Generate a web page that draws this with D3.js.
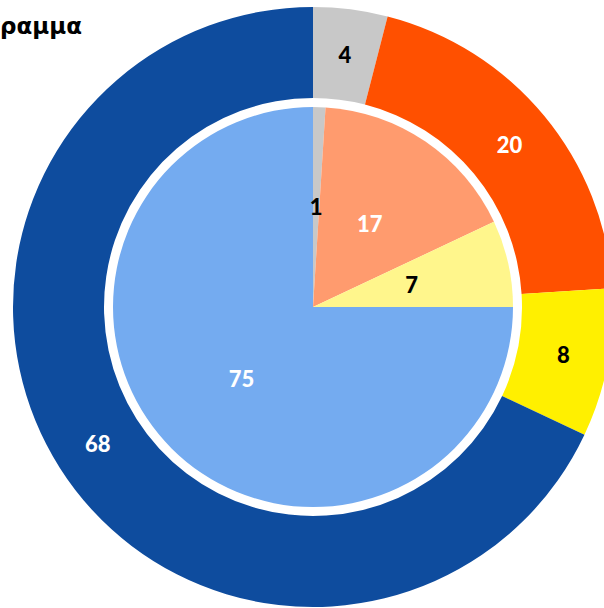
<!DOCTYPE html>
<html><head><meta charset="utf-8">
<script src="https://cdn.jsdelivr.net/npm/d3@7"></script>
<style>html,body{margin:0;padding:0;background:#fff;overflow:hidden}</style>
</head><body>
<svg id="chart" width="604" height="608"></svg>
<script>
const categories = ["Γκρι", "Πορτοκαλί", "Κίτρινο", "Μπλε"];
const outerValues = [4, 20, 8, 68];
const innerValues = [1, 17, 7, 75];
const outerColors = ["#c8c8c8", "#ff5000", "#fff000", "#0e4c9e"];
const innerColors = ["#c8c8c8", "#ff9b6e", "#fff68c", "#74abf0"];
const outerText = ["#000", "#fff", "#000", "#fff"];
const innerText = ["#000", "#fff", "#000", "#fff"];
const titleLines = ["Κυκλικό", "διάγραμμα"];

const svg = d3.select("#chart");
const cx = 313, cy = 307;
const g = svg.append("g").attr("transform", `translate(${cx},${cy})`);
const pie = d3.pie().sort(null).value(d => d);

const outerArc = d3.arc().innerRadius(209).outerRadius(300);
const outerLabel = d3.arc().innerRadius(255).outerRadius(255);
const innerArc = d3.arc().innerRadius(0).outerRadius(200);
const innerLabel = d3.arc().innerRadius(101).outerRadius(101);

const od = pie(outerValues), id = pie(innerValues);
g.selectAll("path.o").data(od).join("path").attr("class","o")
  .attr("d", outerArc).attr("fill", (d,i) => outerColors[i]);
g.selectAll("path.i").data(id).join("path").attr("class","i")
  .attr("d", innerArc).attr("fill", (d,i) => innerColors[i]);

const font = "Lato, 'DejaVu Sans', sans-serif";
g.selectAll("text.o").data(od).join("text").attr("class","o")
  .attr("transform", d => `translate(${outerLabel.centroid(d)})`)
  .attr("text-anchor","middle").attr("dominant-baseline","central")
  .attr("font-family", font).attr("font-weight","900").attr("font-size", 22)
  .attr("fill", (d,i) => outerText[i]).text(d => d.data);
g.selectAll("text.i").data(id).join("text").attr("class","i")
  .attr("transform", d => `translate(${innerLabel.centroid(d)})`)
  .attr("text-anchor","middle").attr("dominant-baseline","central")
  .attr("font-family", font).attr("font-weight","900").attr("font-size", 22)
  .attr("fill", (d,i) => innerText[i]).text(d => d.data);

const tfont = "'DejaVu Sans', sans-serif";
svg.append("text").attr("x", 82).attr("y", -7).attr("text-anchor","end")
  .attr("font-family", tfont).attr("font-weight","bold").attr("font-size", 23)
  .text(titleLines[0]);
svg.append("text").attr("x", 82).attr("y", 34).attr("text-anchor","end")
  .attr("font-family", tfont).attr("font-weight","bold").attr("font-size", 23)
  .text(titleLines[1]);
</script>
</body></html>
